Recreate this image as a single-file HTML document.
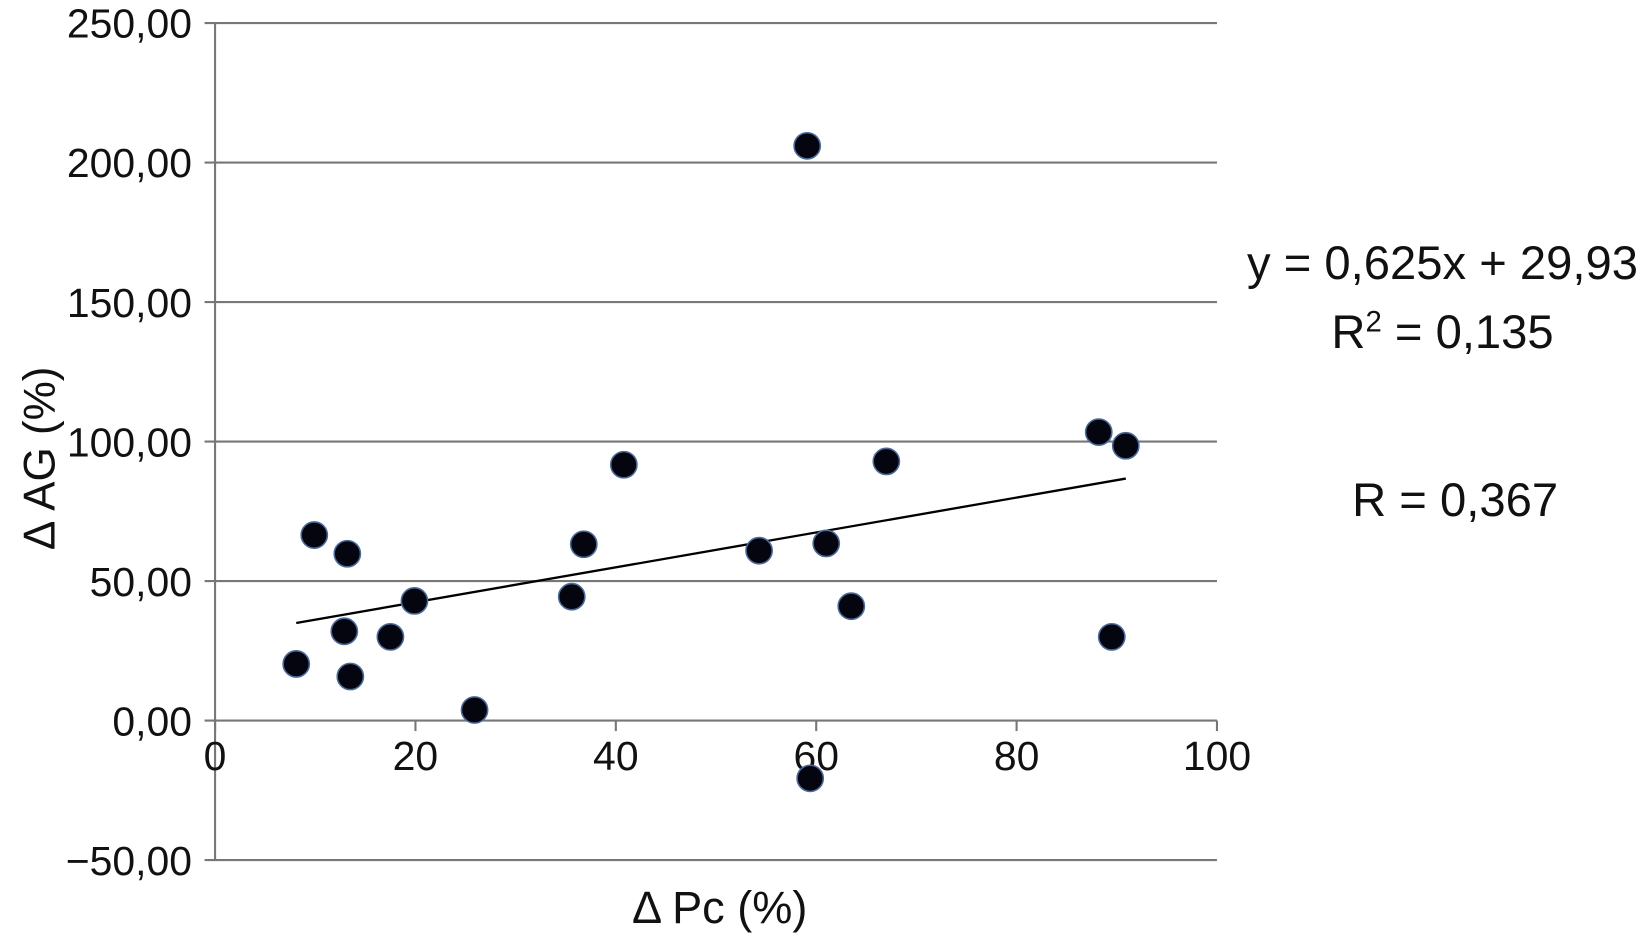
<!DOCTYPE html>
<html><head><meta charset="utf-8"><style>
html,body{margin:0;padding:0;background:#fff;}
svg{display:block;}
text{font-family:"Liberation Sans",sans-serif;fill:#111;}
</style></head><body>
<svg id="chart" width="1645" height="944" viewBox="0 0 1568 900" preserveAspectRatio="none" xmlns="http://www.w3.org/2000/svg">
<g id="grid"></g>
<g id="axes"></g>
<g id="trend"></g>
<g id="pts"></g>
<text transform="translate(52,437) rotate(-90)" text-anchor="middle" font-size="42">Δ AG (%)</text>
<text x="686" y="880" text-anchor="middle" font-size="43">Δ Pc (%)</text>
<text x="1375" y="266" text-anchor="middle" font-size="45">y = 0,625x + 29,93</text>
<text x="1375" y="332" text-anchor="middle" font-size="45">R<tspan font-size="28" dy="-16">2</tspan><tspan dy="16"> = 0,135</tspan></text>
<text x="1387" y="492" text-anchor="middle" font-size="45">R = 0,367</text>
</svg>
<script>
const xVals=[8.1,9.9,12.9,13.2,13.5,17.5,19.9,25.9,35.6,36.8,40.8,54.3,59.1,59.4,61.0,63.5,67.0,88.2,89.5,90.9];
const yVals=[20.3,66.5,32.0,59.8,15.8,30.0,42.9,3.8,44.4,63.2,91.7,60.9,206.0,-20.7,63.5,41.0,92.9,103.4,30.0,98.5];
const yTicks=[-50,0,50,100,150,200,250];
const yTickLabels=["−50,00","0,00","50,00","100,00","150,00","200,00","250,00"];
const xTicks=[0,20,40,60,80,100];
const slope=0.625, intercept=29.93;
const NS="http://www.w3.org/2000/svg";
const X=v=>205+v*9.55;
const Y=v=>687-v*2.66;
function mk(tag,attrs,parent){const e=document.createElementNS(NS,tag);for(const k in attrs)e.setAttribute(k,attrs[k]);document.getElementById(parent).appendChild(e);return e;}
yTicks.forEach((t,i)=>{
  const l=mk('line',{x1:195,x2:1160,y1:Y(t),y2:Y(t),stroke:'#777','stroke-width':2},'grid');
  
  
  const tx=mk('text',{x:183,y:Y(t)+14,'text-anchor':'end','font-size':39},'axes');
  tx.textContent=yTickLabels[i];
  
  
});
const ya=mk('line',{x1:205,x2:205,y1:Y(250),y2:Y(-50),stroke:'#777','stroke-width':2},'axes');


xTicks.forEach(t=>{
  const tk=mk('line',{x1:X(t),x2:X(t),y1:687,y2:697,stroke:'#777','stroke-width':2},'axes');
  
  
  const tx=mk('text',{x:X(t),y:734,'text-anchor':'middle','font-size':39},'axes');
  tx.textContent=String(t);
  
  
});
const x0=Math.min(...xVals), x1=Math.max(...xVals);
const tl=mk('line',{x1:X(x0),y1:Y(slope*x0+intercept),x2:X(x1),y2:Y(slope*x1+intercept),stroke:'#000','stroke-width':2.2},'trend');


xVals.forEach((v,i)=>{
  const c=mk('circle',{cx:X(v),cy:Y(yVals[i]),r:12.5,fill:'#050510',stroke:'#4a6a9a','stroke-width':1.5},'pts');
  
  
});
</script>
</body></html>
